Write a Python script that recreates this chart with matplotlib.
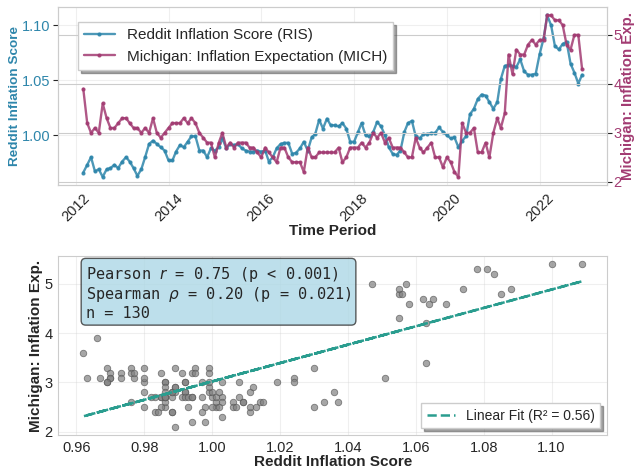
import numpy as np
import pandas as pd
import matplotlib
matplotlib.use('Agg')
import matplotlib.pyplot as plt
import matplotlib.dates as mdates
from matplotlib.ticker import MultipleLocator
import seaborn as sns

# monthly series, Mar 2012 - Dec 2022 (130 months)
dates = pd.date_range('2012-03-01', periods=130, freq='MS')

ris = [0.966, 0.973, 0.980, 0.967, 0.969, 0.962, 0.969, 0.970, 0.973, 0.970,
       0.976, 0.980, 0.976, 0.970, 0.963, 0.969, 0.980, 0.992, 0.995, 0.992,
       0.989, 0.986, 0.977, 0.977, 0.985, 0.991, 0.989, 0.994, 0.999, 0.999,
       0.986, 0.986, 0.980, 0.988, 0.986, 0.989, 0.997, 0.988, 0.992, 0.991,
       0.992, 0.988, 0.986, 0.985, 0.985, 0.986, 0.985, 0.986, 0.976, 0.980,
       0.988, 0.992, 0.993, 0.993, 0.983, 0.984, 0.988, 0.994, 0.986, 0.998,
       1.001, 1.014, 1.006, 1.015, 1.009, 1.009, 1.008, 1.011, 1.006, 0.994,
       0.994, 1.003, 1.011, 1.000, 0.999, 1.003, 1.012, 1.008, 1.000, 0.989,
       0.983, 0.982, 0.986, 1.003, 1.011, 1.013, 0.999, 0.997, 1.001, 1.001,
       1.002, 1.002, 1.007, 1.003, 1.000, 0.997, 0.998, 0.989, 0.995, 0.999,
       1.019, 1.024, 1.033, 1.037, 1.036, 1.030, 1.024, 1.030, 1.051, 1.063,
       1.064, 1.063, 1.062, 1.069, 1.058, 1.055, 1.055, 1.056, 1.074, 1.088,
       1.109, 1.100, 1.081, 1.078, 1.083, 1.085, 1.065, 1.057, 1.047, 1.055]

mich = [3.9, 3.2, 3.0, 3.1, 3.0, 3.6, 3.3, 3.1, 3.1, 3.2,
        3.3, 3.3, 3.2, 3.1, 3.1, 3.0, 3.1, 3.0, 3.3, 3.0,
        2.9, 3.0, 3.1, 3.2, 3.2, 3.2, 3.3, 3.2, 3.3, 3.2,
        3.0, 2.9, 2.8, 2.8, 2.5, 2.8, 3.0, 2.7, 2.8, 2.7,
        2.8, 2.8, 2.8, 2.7, 2.7, 2.6, 2.5, 2.7, 2.6, 2.5,
        2.4, 2.7, 2.7, 2.5, 2.4, 2.4, 2.4, 2.2, 2.7, 2.5,
        2.5, 2.6, 2.6, 2.6, 2.6, 2.6, 2.7, 2.4, 2.5, 2.7,
        2.7, 2.7, 2.8, 2.7, 2.8, 3.0, 2.9, 3.0, 2.8, 2.9,
        2.7, 2.7, 2.7, 2.6, 2.5, 2.5, 2.9, 2.7, 2.6, 2.7,
        2.8, 2.5, 2.5, 2.3, 2.5, 2.4, 2.2, 2.1, 3.2, 3.0,
        3.0, 3.1, 2.6, 2.6, 2.8, 2.5, 3.0, 3.3, 3.1, 3.4,
        4.6, 4.2, 4.7, 4.6, 4.6, 4.8, 4.9, 4.8, 4.9, 4.9,
        5.4, 5.4, 5.3, 5.3, 5.2, 4.8, 4.7, 5.0, 5.0, 4.3]

stats_text = ('Pearson $r$ = 0.75 (p < 0.001)\n'
              'Spearman $\\rho$ = 0.20 (p = 0.021)\n'
              'n = 130')
fit_label = 'Linear Fit (R² = 0.56)'

ris_color = '#2E86AB'
mich_color = '#A23B72'
fit_color = '#2A9D8F'

sns.set_style('whitegrid')
plt.rcParams['font.family'] = ['Liberation Sans', 'DejaVu Sans']

top_pos = [0.092, 0.6047, 0.8655, 0.3797]
bottom_pos = [0.092, 0.0705, 0.8655, 0.3825]

fig, (ax1, ax3) = plt.subplots(2, 1, figsize=(6.34, 4.68), dpi=100)

# --- top: time series with twin axis
l1, = ax1.plot(dates, ris, color=ris_color, marker='o', markersize=2,
               linewidth=1.7, alpha=0.85, label='Reddit Inflation Score (RIS)')
ax1.set_xlabel('Time Period', fontsize=11, fontweight='bold', labelpad=0)
ax1.set_ylabel('Reddit Inflation Score', fontsize=9.7, fontweight='bold',
               color=ris_color, labelpad=1)
ax1.tick_params(axis='y', labelcolor=ris_color, labelsize=10.5, pad=2)
ax1.tick_params(axis='x', labelsize=10.5, rotation=45, pad=1)
ax1.yaxis.set_major_locator(MultipleLocator(0.05))
ax1.xaxis.set_major_locator(mdates.YearLocator(2))
ax1.xaxis.set_major_formatter(mdates.DateFormatter('%Y'))
ax1.grid(True, alpha=0.3)

ax2 = ax1.twinx()
l2, = ax2.plot(dates, mich, color=mich_color, marker='o', markersize=2,
               linewidth=1.7, alpha=0.85,
               label='Michigan: Inflation Expectation (MICH)')
ax2.set_ylabel('Michigan: Inflation Exp.', fontsize=10.8, fontweight='bold',
               color=mich_color, labelpad=0)
ax2.tick_params(axis='y', labelcolor=mich_color, labelsize=10.5, pad=1)
ax2.set_yticks([2, 3, 4, 5])

ax1.set_position(top_pos)
ax2.set_position(top_pos)

# legend on the twin so it sits above both lines and grids
ax2.legend([l1, l2], [l1.get_label(), l2.get_label()], loc='upper left',
           bbox_to_anchor=(0.022, 0.96), fontsize=11, frameon=True,
           shadow=True, fancybox=False)

# --- bottom: scatter + linear fit
ris_arr = np.array(ris)
mich_arr = np.array(mich)
ax3.set_position(bottom_pos)
ax3.scatter(ris_arr, mich_arr, s=22, c='gray', alpha=0.7,
            edgecolors='#555555', linewidths=0.6)
coef = np.polyfit(ris_arr, mich_arr, 1)
ax3.plot(ris_arr, np.polyval(coef, ris_arr), '--', color=fit_color,
         linewidth=1.8, label=fit_label)
ax3.set_xlabel('Reddit Inflation Score', fontsize=11, fontweight='bold',
               labelpad=0)
ax3.set_ylabel('Michigan: Inflation Exp.', fontsize=11, fontweight='bold',
               labelpad=1)
ax3.tick_params(labelsize=10.5, pad=0.5)
ax3.set_yticks([2, 3, 4, 5])
ax3.grid(True, alpha=0.3)
ax3.legend(loc='lower right', fontsize=10, frameon=True, shadow=True,
           fancybox=False)
ax3.text(0.05, 0.95, stats_text, transform=ax3.transAxes, fontsize=11,
         family='monospace', va='top', linespacing=1.1,
         bbox=dict(boxstyle='round,pad=0.3', facecolor='lightblue',
                   alpha=0.8, edgecolor='#333333'))

fig.savefig('out.png', dpi=100)
